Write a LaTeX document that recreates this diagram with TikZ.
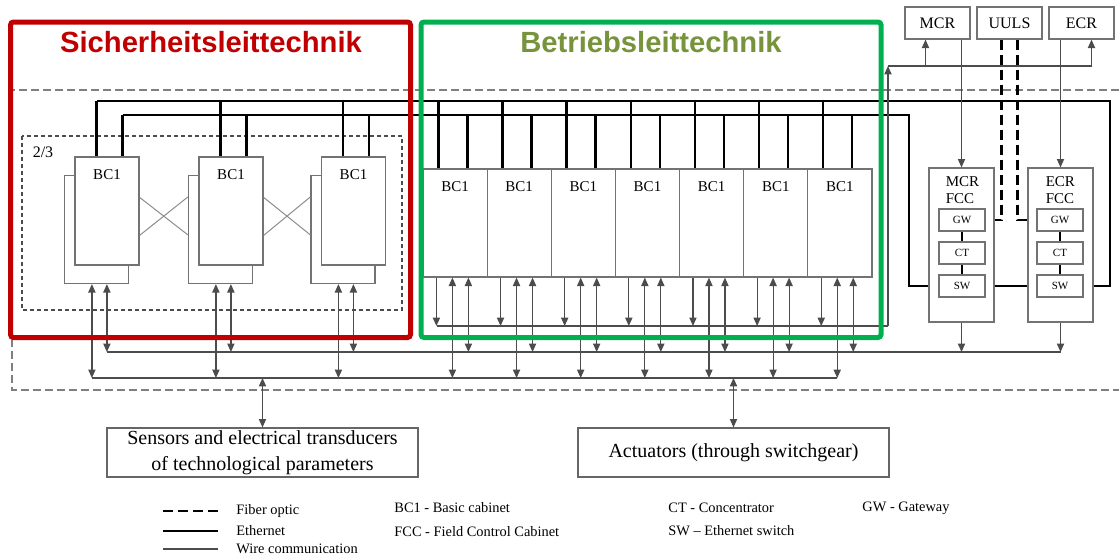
\documentclass[tikz,border=0pt]{standalone}
\usepackage{fontspec}
\setmainfont{Liberation Serif}
\newfontfamily\headfont{Liberation Sans}
\usetikzlibrary{arrows.meta,positioning}
\definecolor{sltred}{HTML}{C00000}
\definecolor{bltgreen}{HTML}{00B050}
\definecolor{bltolive}{HTML}{77933C}
\newcommand{\fsz}[2]{\fontsize{#1}{#2}\selectfont}

\begin{document}
\begin{tikzpicture}[
    x=0.5pt, y=-0.5pt,
    >={Triangle[length=4.2pt,width=3.6pt]},
    cab/.style={draw=black!55, line width=0.6pt, fill=white, minimum width=32pt, minimum height=54pt, inner sep=0pt},
    cabtxt/.style={font=\fsz{7.5}{9}, inner sep=0pt},
    unitbox/.style={draw=black!55, line width=0.6pt, fill=white, minimum width=23pt, minimum height=11pt, inner sep=0pt, font=\fsz{5.5}{6}},
    roombox/.style={draw=black!55, line width=0.6pt, minimum width=32.5pt, minimum height=16pt, inner sep=0pt, font=\fsz{8}{9}},
    fccbox/.style={draw=black!55, line width=0.6pt, minimum width=32.5pt, minimum height=77pt, inner sep=0pt},
    fcctxt/.style={anchor=north west, align=left, inner sep=0pt, font=\fsz{7.5}{8.5}},
    endbox/.style={draw=black!60, line width=0.6pt, minimum width=155.5pt, minimum height=24.5pt, inner sep=0pt, align=center, font=\fsz{10}{13}},
    eth/.style={line width=1.2pt},
    wire/.style={draw=black!70, line width=0.6pt},
    fiber/.style={line width=1.1pt, dash pattern=on 5pt off 2.5pt},
    zone/.style={line width=2.5pt, rounded corners=1.5pt},
    legtxt/.style={anchor=west, inner sep=0pt, font=\fsz{7.2}{8}}
]
    \useasboundingbox (0,0) rectangle (1119,557);

    % fibre optic ring round the plant
    \draw[draw=black!50, line width=0.8pt, dash pattern=on 4pt off 2pt] (1119,90) -- (12,90) -- (12,390) -- (1119,390);

    % 2/3 voting group
    \draw[draw=black!70, line width=0.6pt, dash pattern=on 2pt off 1.5pt] (22,136) rectangle (402,310);
    \node[font=\fsz{8}{9}] (vote) at (43,152) {2/3};

    % safety cabinets (doubled)
    \foreach \i/\x in {1/107,2/231,3/353.5}{
        \node[cab] (sb\i) at (\x-10.5,229.5) {};
        \node[cab] (sf\i) at (\x,211) {};
        \node[cabtxt] (sft\i) at ([yshift=-9pt]sf\i.north) {BC1};
    }
    \draw[draw=black!45, line width=0.5pt] ([yshift=-20.5pt]sf1.north east) -- ([yshift=-30pt]sb2.north west);
    \draw[draw=black!45, line width=0.5pt] ([yshift=-39.5pt]sf1.north east) -- ([yshift=-11pt]sb2.north west);
    \draw[draw=black!45, line width=0.5pt] ([yshift=-20.5pt]sf2.north east) -- ([yshift=-30pt]sb3.north west);
    \draw[draw=black!45, line width=0.5pt] ([yshift=-39.5pt]sf2.north east) -- ([yshift=-11pt]sb3.north west);

    % operational cabinets
    \foreach \i in {1,...,7}{
        \node[cab, minimum width=32.07pt] (bc\i) at ({423+64.14*(\i-0.5)},223) {};
        \node[cabtxt] (bct\i) at ([yshift=-9pt]bc\i.north) {BC1};
    }

    % control rooms
    \node[roombox] (mcr) at (937.5,23) {MCR};
    \node[roombox] (uuls) at (1009.5,23) {UULS};
    \node[roombox] (ecr) at (1081.5,23) {ECR};

    % field control cabinets
    \node[fccbox] (mfcc) at (961.5,245) {};
    \node[fccbox] (efcc) at (1060.5,245) {};
    \node[fcctxt] (mfcct) at ([xshift=8.5pt,yshift=-4.5pt]mfcc.north west) {MCR\\FCC};
    \node[fcctxt] (efcct) at ([xshift=9pt,yshift=-4.5pt]efcc.north west) {ECR\\FCC};
    \node[unitbox] (mgw) at (962,220) {GW};
    \node[unitbox] (mct) at (962,253) {CT};
    \node[unitbox] (msw) at (962,286) {SW};
    \node[unitbox] (egw) at (1060,220) {GW};
    \node[unitbox] (ect) at (1060,253) {CT};
    \node[unitbox] (esw) at (1060,286) {SW};
    \draw[eth] (mgw) -- (mct) -- (msw);
    \draw[eth] (egw) -- (ect) -- (esw);

    % Ethernet buses
    \coordinate (e1) at (97,101);
    \coordinate (e1r) at (1110,101);
    \coordinate (e2) at (123,115);
    \coordinate (e2r) at (909,115);
    \draw[eth] (e1) -- (e1r) |- (efcc.east |- esw);
    \draw[eth] (e2) -- (e2r) |- (mfcc.west |- msw);
    \draw[eth] (mfcc.east |- msw) -- (efcc.west |- esw);
    \foreach \i in {1,2,3}{
        \draw[eth] ([xshift=11pt]sf\i.north west |- e1) -- ([xshift=11pt]sf\i.north west);
        \draw[eth] ([xshift=24pt]sf\i.north west |- e2) -- ([xshift=24pt]sf\i.north west);
    }
    \foreach \i in {1,...,7}{
        \draw[eth] ([xshift=8pt]bc\i.north west |- e1) -- ([xshift=8pt]bc\i.north west);
        \draw[eth] ([xshift=22.5pt]bc\i.north west |- e2) -- ([xshift=22.5pt]bc\i.north west);
    }

    % UULS fibre links
    \draw[fiber] ([xshift=-4pt]uuls.south) |- (mfcc.east |- mgw);
    \draw[fiber] ([xshift=4pt]uuls.south) |- (efcc.west |- egw);

    % wire links
    \coordinate (busA) at (92,378);
    \coordinate (busB) at (107,352);
    \coordinate (col) at (437,326);
    \coordinate (colr) at (888,326);
    \coordinate (fb) at (888,66);
    \draw[wire,->] (mfcc.north |- mcr.south) -- (mfcc.north);
    \draw[wire,->] (efcc.north |- ecr.south) -- (efcc.north);
    \draw[wire] (col) -- (colr);
    \draw[wire,->] (colr) -- (fb);
    \draw[wire] (fb) -- ([xshift=5pt]ecr.south |- fb);
    \draw[wire,->] ([xshift=-6pt]mcr.south |- fb) -- ([xshift=-6pt]mcr.south);
    \draw[wire,->] ([xshift=5pt]ecr.south |- fb) -- ([xshift=5pt]ecr.south);
    \draw[wire] (busA) -- ([xshift=15pt]bc7.south west |- busA);
    \draw[wire] (busB) -- (efcc.south |- busB);
    \draw[wire,->] (mfcc.south) -- (mfcc.south |- busB);
    \draw[wire,->] (efcc.south) -- (efcc.south |- busB);
    \foreach \i in {1,2,3}{
        \draw[wire,<->] ([xshift=14pt]sb\i.south west) -- ([xshift=14pt]sb\i.south west |- busA);
        \draw[wire,<->] ([xshift=21.5pt]sb\i.south west) -- ([xshift=21.5pt]sb\i.south west |- busB);
    }
    \foreach \i in {1,...,7}{
        \draw[wire,->] ([xshift=7pt]bc\i.south west) -- ([xshift=7pt]bc\i.south west |- col);
        \draw[wire,<->] ([xshift=15pt]bc\i.south west) -- ([xshift=15pt]bc\i.south west |- busA);
        \draw[wire,<->] ([xshift=23pt]bc\i.south west) -- ([xshift=23pt]bc\i.south west |- busB);
    }

    % field level
    \node[endbox] (sens) at (262.5,452.5) {Sensors and electrical transducers\\of technological parameters};
    \node[endbox] (act) at (733.5,452.5) {Actuators (through switchgear)};
    \draw[wire,<->] (sens.north |- busA) -- (sens.north);
    \draw[wire,<->] (act.north |- busA) -- (act.north);

    % zones
    \draw[zone, draw=sltred] (10.5,22) rectangle (410.5,337.5);
    \draw[zone, draw=bltgreen] (421,22) rectangle (881,337.5);
    \node[text=sltred, font=\headfont\bfseries\fsz{14.6}{17}] (sltt) at (211,42) {Sicherheitsleittechnik};
    \node[text=bltolive, font=\headfont\bfseries\fsz{14.6}{17}] (bltt) at (651,42) {Betriebsleittechnik};

    % legend
    \node[legtxt] (lfib) at (236,511) {Fiber optic};
    \node[legtxt] (leth) at (236,531) {Ethernet};
    \node[legtxt] (lwire) at (236,549) {Wire communication};
    \draw[fiber] ([xshift=-36.5pt]lfib.west) -- ([xshift=-9pt]lfib.west);
    \draw[eth] ([xshift=-36.5pt]leth.west) -- ([xshift=-9pt]leth.west);
    \draw[wire] ([xshift=-36.5pt]lwire.west) -- ([xshift=-9pt]lwire.west);
    \node[legtxt] (lbc) at (394,508) {BC1 - Basic cabinet};
    \node[legtxt] (lfcc) at (394,532) {FCC - Field Control Cabinet};
    \node[legtxt] (lct) at (668,508) {CT - Concentrator};
    \node[legtxt] (lsw) at (668,531) {SW -- Ethernet switch};
    \node[legtxt] (lgw) at (862,508) {GW - Gateway};
\end{tikzpicture}
\end{document}
